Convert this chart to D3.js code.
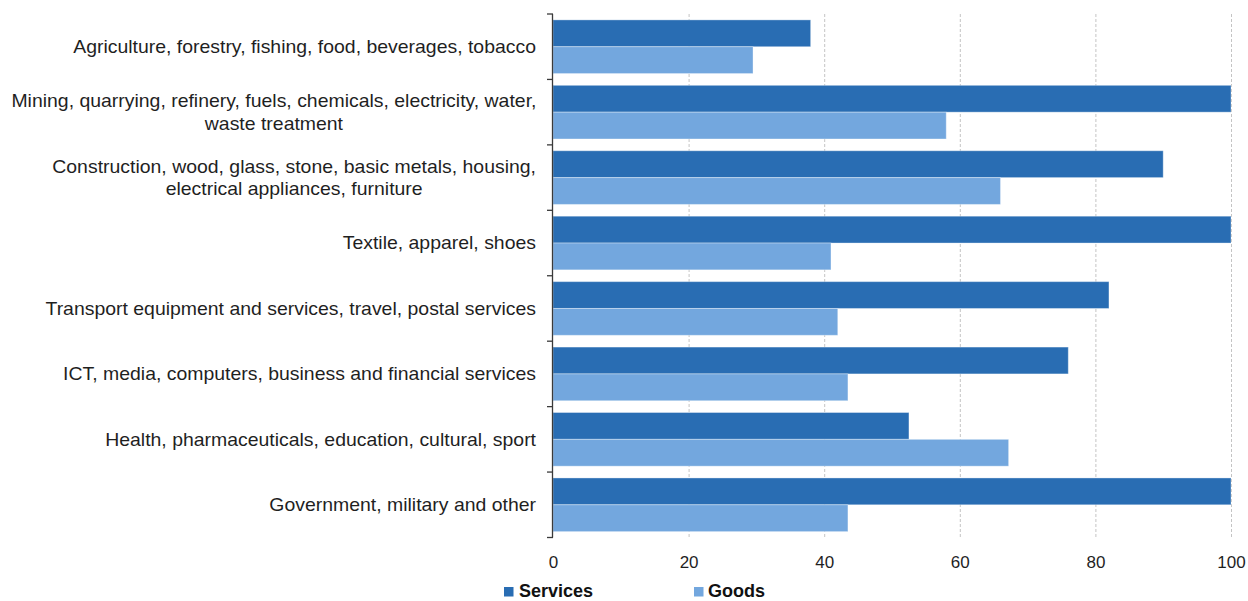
<!DOCTYPE html>
<html>
<head>
<meta charset="utf-8">
<script src="https://cdn.jsdelivr.net/npm/d3@7"></script>
<style>
  html, body { margin: 0; padding: 0; background: #fff; }
  svg { display: block; font-family: "Liberation Sans", Arial, sans-serif; }
</style>
</head>
<body>
<svg id="chart" width="1248" height="601"></svg>
<script>
// Sector categories (line breaks mark where the label wraps)
const categories = [
  "Agriculture, forestry, fishing, food, beverages, tobacco",
  "Mining, quarrying, refinery, fuels, chemicals, electricity, water,\nwaste treatment",
  "Construction, wood, glass, stone, basic metals, housing,\nelectrical appliances, furniture",
  "Textile, apparel, shoes",
  "Transport equipment and services, travel, postal services",
  "ICT, media, computers, business and financial services",
  "Health, pharmaceuticals, education, cultural, sport",
  "Government, military and other"
];
const seriesNames = ["Services", "Goods"];
const servicesValues = [38, 100, 90, 100, 82, 76, 52.5, 100];
const goodsValues = [29.5, 58, 66, 41, 42, 43.5, 67.2, 43.5];
const xTicks = [0, 20, 40, 60, 80, 100];
const colors = { Services: "#296db3", Goods: "#73a7de" };

const svg = d3.select("#chart");
const plot = { left: 553, right: 1231, top: 14, bottom: 537.5 };

const x = d3.scaleLinear().domain([0, 100]).range([plot.left, plot.right]);
const y = d3.scaleBand().domain(categories)
  .range([plot.top, plot.bottom]).paddingInner(0.18).paddingOuter(0.09);
const ySub = d3.scaleBand().domain(seriesNames).range([0, y.bandwidth()]);

const rows = categories.map((c, i) => ({
  category: c,
  values: [
    { series: "Services", value: servicesValues[i] },
    { series: "Goods", value: goodsValues[i] }
  ]
}));

// Vertical dashed gridlines
svg.append("g").selectAll("line")
  .data(xTicks.filter(t => t > 0))
  .join("line")
  .attr("x1", d => x(d) + 0.5).attr("x2", d => x(d) + 0.5)
  .attr("y1", plot.top).attr("y2", plot.bottom)
  .attr("stroke", "#c4c4c4").attr("stroke-width", 1)
  .attr("stroke-dasharray", "3,2");

// Bars
svg.append("g").selectAll("g")
  .data(rows)
  .join("g")
  .attr("transform", d => `translate(0,${y(d.category)})`)
  .selectAll("rect")
  .data(d => d.values)
  .join("rect")
  .attr("x", x(0))
  .attr("y", d => ySub(d.series))
  .attr("width", d => x(d.value) - x(0))
  .attr("height", ySub.bandwidth())
  .attr("fill", d => colors[d.series])
  .attr("stroke", "#ffffff").attr("stroke-opacity", 0.35).attr("stroke-width", 1);

// Left axis line with ticks at category boundaries
const yAxis = svg.append("g");
yAxis.append("line")
  .attr("x1", plot.left - 0.5).attr("x2", plot.left - 0.5)
  .attr("y1", plot.top).attr("y2", plot.bottom)
  .attr("stroke", "#3a3a3a").attr("stroke-width", 1.3);
const half = y.step() * y.paddingInner() / 2;
const boundaries = categories.map(c => y(c) - half).concat([y(categories[categories.length - 1]) + y.bandwidth() + half]);
yAxis.selectAll("line.tick")
  .data(boundaries)
  .join("line").attr("class", "tick")
  .attr("x1", plot.left - 6).attr("x2", plot.left)
  .attr("y1", d => d).attr("y2", d => d)
  .attr("stroke", "#3a3a3a").attr("stroke-width", 1.3);

// Category labels (slightly widened face)
const labels = svg.append("g")
  .attr("transform", "translate(536,0) scale(1.08,1)")
  .attr("font-size", 18).attr("fill", "#1f1f1f");
rows.forEach(r => {
  const lines = r.category.split("\n");
  const cy = y(r.category) + y.bandwidth() / 2;
  const lh = 22.5;
  const t = labels.append("text").attr("text-anchor", "end").attr("x", 0);
  lines.forEach((ln, i) => {
    t.append("tspan")
      .attr("x", 0)
      .attr("y", cy + (i - (lines.length - 1) / 2) * lh)
      .attr("dy", "0.35em")
      .text(ln);
  });
  if (lines.length > 1) {
    // Wrapped lines are centred on the widest line
    const bbox = t.node().getBBox();
    const centre = bbox.x + bbox.width / 2;
    t.attr("text-anchor", "middle").selectAll("tspan").attr("x", centre);
  }
});

// Bottom axis labels
const xAxis = d3.axisBottom(x).tickValues(xTicks).tickSize(0).tickPadding(18).tickFormat(d3.format("d"));
const xg = svg.append("g").attr("transform", `translate(0,${plot.bottom})`).call(xAxis);
xg.select(".domain").remove();
xg.selectAll("text")
  .attr("font-size", 17).attr("fill", "#1f1f1f")
  .attr("font-family", "'Liberation Sans', Arial, sans-serif");

// Legend
const legendItems = [
  { name: "Services", sx: 504, tx: 519 },
  { name: "Goods", sx: 694, tx: 708 }
];
const legend = svg.append("g");
legendItems.forEach(it => {
  legend.append("rect")
    .attr("x", it.sx).attr("y", 587).attr("width", 9.5).attr("height", 9.5)
    .attr("fill", colors[it.name]);
  legend.append("text")
    .attr("x", it.tx).attr("y", 596.5)
    .attr("font-size", 18).attr("font-weight", "bold").attr("fill", "#111")
    .text(it.name);
});
</script>
</body>
</html>
